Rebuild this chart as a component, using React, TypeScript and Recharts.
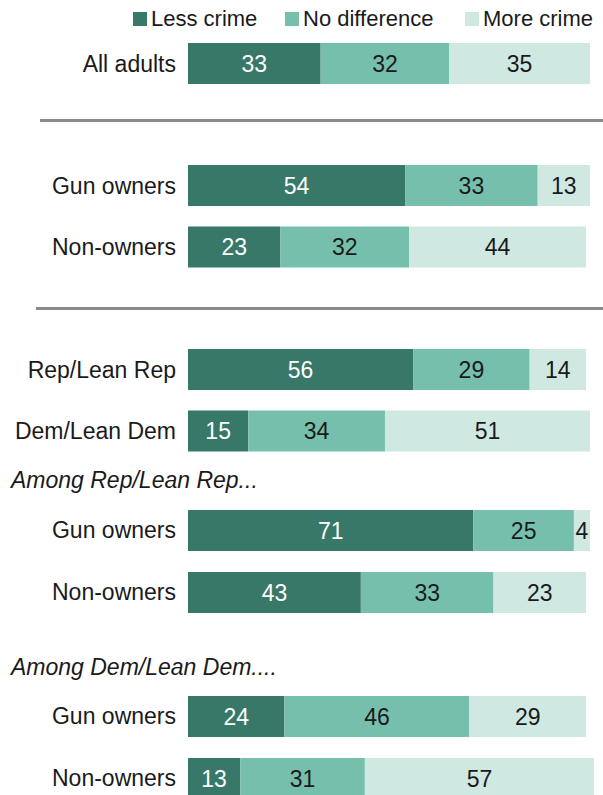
import React from 'react';
import { BarChart, Bar, XAxis, YAxis, LabelList } from 'recharts';

const groups = [
  'All adults',
  'Gun owners', 'Non-owners',
  'Rep/Lean Rep', 'Dem/Lean Dem',
  'Gun owners', 'Non-owners',
  'Gun owners', 'Non-owners',
];
const lessCrime = [33, 54, 23, 56, 15, 71, 43, 24, 13];
const noDifference = [32, 33, 32, 29, 34, 25, 33, 46, 31];
const moreCrime = [35, 13, 44, 14, 51, 4, 23, 29, 57];
// which block each row belongs to
const sectionOf = [0, 1, 1, 2, 2, 3, 3, 4, 4];
const legendLabels = ['Less crime', 'No difference', 'More crime'];
const subheads = ['Among Rep/Lean Rep...', 'Among Dem/Lean Dem....'];

const COLORS = ['#387868', '#76bfad', '#d0e8e2'];
const FONT = '"Liberation Sans", Arial, sans-serif';
const TEXT = '#1a1a1a';

// vertical placement of each block of bars
const SECTIONS = [
  { top: 33, height: 61 },
  { top: 155, height: 123 },
  { top: 339, height: 123 },
  { top: 499, height: 124 },
  { top: 685, height: 124 },
];

const rows = groups.map((g, i) => ({
  group: g,
  less: lessCrime[i],
  same: noDifference[i],
  more: moreCrime[i],
  section: sectionOf[i],
}));

function Section({ data, top, height }: { data: any[]; top: number; height: number }) {
  return (
    <div style={{ position: 'absolute', left: 0, top, width: 603, height }}>
      <BarChart
        width={603}
        height={height}
        data={data}
        layout="vertical"
        margin={{ top: 0, right: 9, bottom: 0, left: 0 }}
        barSize={41}
      >
        <XAxis type="number" domain={[0, 101]} allowDataOverflow hide />
        <YAxis
          type="category"
          dataKey="group"
          width={188}
          axisLine={false}
          tickLine={false}
          tickSize={0}
          tickMargin={12}
          tick={{ fontSize: 23, fill: TEXT, fontFamily: FONT }}
        />
        <Bar dataKey="less" stackId="a" fill={COLORS[0]} isAnimationActive={false}>
          <LabelList dataKey="less" position="center" fill="#ffffff" style={{ fontSize: 23, fontFamily: FONT, fill: '#ffffff' }} />
        </Bar>
        <Bar dataKey="same" stackId="a" fill={COLORS[1]} isAnimationActive={false}>
          <LabelList dataKey="same" position="center" fill={TEXT} style={{ fontSize: 23, fontFamily: FONT, fill: TEXT }} />
        </Bar>
        <Bar dataKey="more" stackId="a" fill={COLORS[2]} isAnimationActive={false}>
          <LabelList dataKey="more" position="center" fill={TEXT} style={{ fontSize: 23, fontFamily: FONT, fill: TEXT }} />
        </Bar>
      </BarChart>
    </div>
  );
}

export default function App() {
  const legendX = [133, 285, 465];
  return (
    <div style={{ position: 'absolute', left: 0, top: 0, width: 603, height: 795, background: '#fff', fontFamily: FONT, color: TEXT, overflow: 'hidden' }}>
      {/* legend */}
      {legendLabels.map((l, i) => (
        <div key={l} style={{ position: 'absolute', left: legendX[i], top: 6, height: 26, display: 'flex', alignItems: 'center' }}>
          <span style={{ width: 14, height: 14, background: COLORS[i], display: 'inline-block', marginRight: 4 }} />
          <span style={{ fontSize: 22 }}>{l}</span>
        </div>
      ))}

      {SECTIONS.map((s, i) => (
        <Section key={i} data={rows.filter((r) => r.section === i)} top={s.top} height={s.height} />
      ))}

      {/* separators */}
      <div style={{ position: 'absolute', left: 40, top: 119, width: 563, height: 3, background: '#8a8a8a' }} />
      <div style={{ position: 'absolute', left: 36, top: 307, width: 567, height: 3, background: '#8a8a8a' }} />

      {/* sub headings */}
      <div style={{ position: 'absolute', left: 11, top: 467, fontSize: 23, fontStyle: 'italic', lineHeight: '26px' }}>{subheads[0]}</div>
      <div style={{ position: 'absolute', left: 11, top: 654, fontSize: 23, fontStyle: 'italic', lineHeight: '26px' }}>{subheads[1]}</div>
    </div>
  );
}
